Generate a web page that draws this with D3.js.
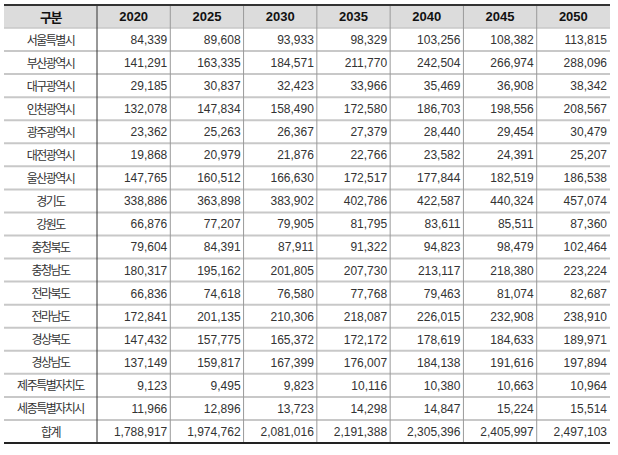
<!DOCTYPE html>
<html><head><meta charset="utf-8">
<script src="https://cdn.jsdelivr.net/npm/d3@7"></script>
<style>body{margin:0;background:#fff}svg{display:block}</style>
</head><body>
<script>
const headerLabel = "구분";
const years = ["2020","2025","2030","2035","2040","2045","2050"];
const regions = ["서울특별시","부산광역시","대구광역시","인천광역시","광주광역시","대전광역시","울산광역시","경기도","강원도","충청북도","충청남도","전라북도","전라남도","경상북도","경상남도","제주특별자치도","세종특별자치시","합계"];
const v2020 = [84339,141291,29185,132078,23362,19868,147765,338886,66876,79604,180317,66836,172841,147432,137149,9123,11966,1788917];
const v2025 = [89608,163335,30837,147834,25263,20979,160512,363898,77207,84391,195162,74618,201135,157775,159817,9495,12896,1974762];
const v2030 = [93933,184571,32423,158490,26367,21876,166630,383902,79905,87911,201805,76580,210306,165372,167399,9823,13723,2081016];
const v2035 = [98329,211770,33966,172580,27379,22766,172517,402786,81795,91322,207730,77768,218087,172172,176007,10116,14298,2191388];
const v2040 = [103256,242504,35469,186703,28440,23582,177844,422587,83611,94823,213117,79463,226015,178619,184138,10380,14847,2305396];
const v2045 = [108382,266974,36908,198556,29454,24391,182519,440324,85511,98479,218380,81074,232908,184633,191616,10663,15224,2405997];
const v2050 = [113815,288096,38342,208567,30479,25207,186538,457074,87360,102464,223224,82687,238910,189971,197894,10964,15514,2497103];
const series = [v2020,v2025,v2030,v2035,v2040,v2045,v2050];

(function () {
const W = 618, H = 455;
const tLeft = 4, firstColRight = 97, tRight = 610, tTop = 5, headerBottom = 28, tBottom = 443;
const svg = d3.select("body").append("svg").attr("width", W).attr("height", H);

const x = d3.scaleBand().domain(years).range([firstColRight, tRight]);
const y = d3.scaleBand().domain(regions).range([headerBottom, tBottom]);
const fmt = d3.format(",");
const korFont = "'Noto Sans CJK KR', 'Noto Sans', sans-serif";
const numFont = "'Liberation Sans', Arial, sans-serif";

svg.append("rect").attr("x", tLeft).attr("y", tTop).attr("width", tRight - tLeft).attr("height", headerBottom - tTop).attr("fill", "#dcdcdc");

const hl = svg.append("g");
regions.forEach((r, i) => {
  hl.append("line").attr("x1", tLeft).attr("x2", tRight)
    .attr("y1", y(r)).attr("y2", y(r))
    .attr("stroke", "#c8c8c8").attr("stroke-width", i === 0 ? 1.5 : 2);
});

const vl = svg.append("g");
years.forEach((yr, i) => {
  if (i === 0) return;
  vl.append("line").attr("x1", x(yr)).attr("x2", x(yr)).attr("y1", tTop).attr("y2", tBottom)
    .attr("stroke", "#9a9a9a").attr("stroke-width", 1);
});
vl.append("line").attr("x1", firstColRight).attr("x2", firstColRight).attr("y1", tTop).attr("y2", tBottom)
  .attr("stroke", "#333").attr("stroke-width", 1);

svg.append("line").attr("x1", tLeft).attr("x2", tRight).attr("y1", tTop).attr("y2", tTop).attr("stroke", "#333").attr("stroke-width", 2);
svg.append("line").attr("x1", tLeft).attr("x2", tRight).attr("y1", tBottom).attr("y2", tBottom).attr("stroke", "#222").attr("stroke-width", 2);

const hy = (tTop + headerBottom) / 2;
svg.append("text").attr("x", (tLeft + firstColRight) / 2).attr("y", hy).attr("dy", "0.42em")
  .attr("text-anchor", "middle").attr("font-family", korFont).attr("font-weight", "bold")
  .attr("font-size", 13).attr("letter-spacing", -1.5).attr("fill", "#111").text(headerLabel);
svg.append("g").selectAll("text").data(years).join("text")
  .attr("x", d => x(d) + x.bandwidth() / 2).attr("y", hy).attr("dy", "0.37em")
  .attr("text-anchor", "middle").attr("font-family", numFont).attr("font-weight", "bold")
  .attr("font-size", 13).attr("fill", "#111").text(d => d);

svg.append("g").selectAll("text").data(regions).join("text")
  .attr("x", (tLeft + firstColRight) / 2).attr("y", d => y(d) + y.bandwidth() / 2).attr("dy", "0.42em")
  .attr("text-anchor", "middle").attr("font-family", korFont).attr("font-size", 12)
  .attr("letter-spacing", -1.5).attr("fill", "#333").text(d => d);

series.forEach((vals, j) => {
  svg.append("g").selectAll("text").data(vals).join("text")
    .attr("x", x(years[j]) + x.bandwidth() - 3)
    .attr("y", (d, i) => y(regions[i]) + y.bandwidth() / 2).attr("dy", "0.37em")
    .attr("text-anchor", "end").attr("font-family", numFont).attr("font-size", 12)
    .attr("fill", "#333").text(d => fmt(d));
});
})();
</script>
</body></html>
